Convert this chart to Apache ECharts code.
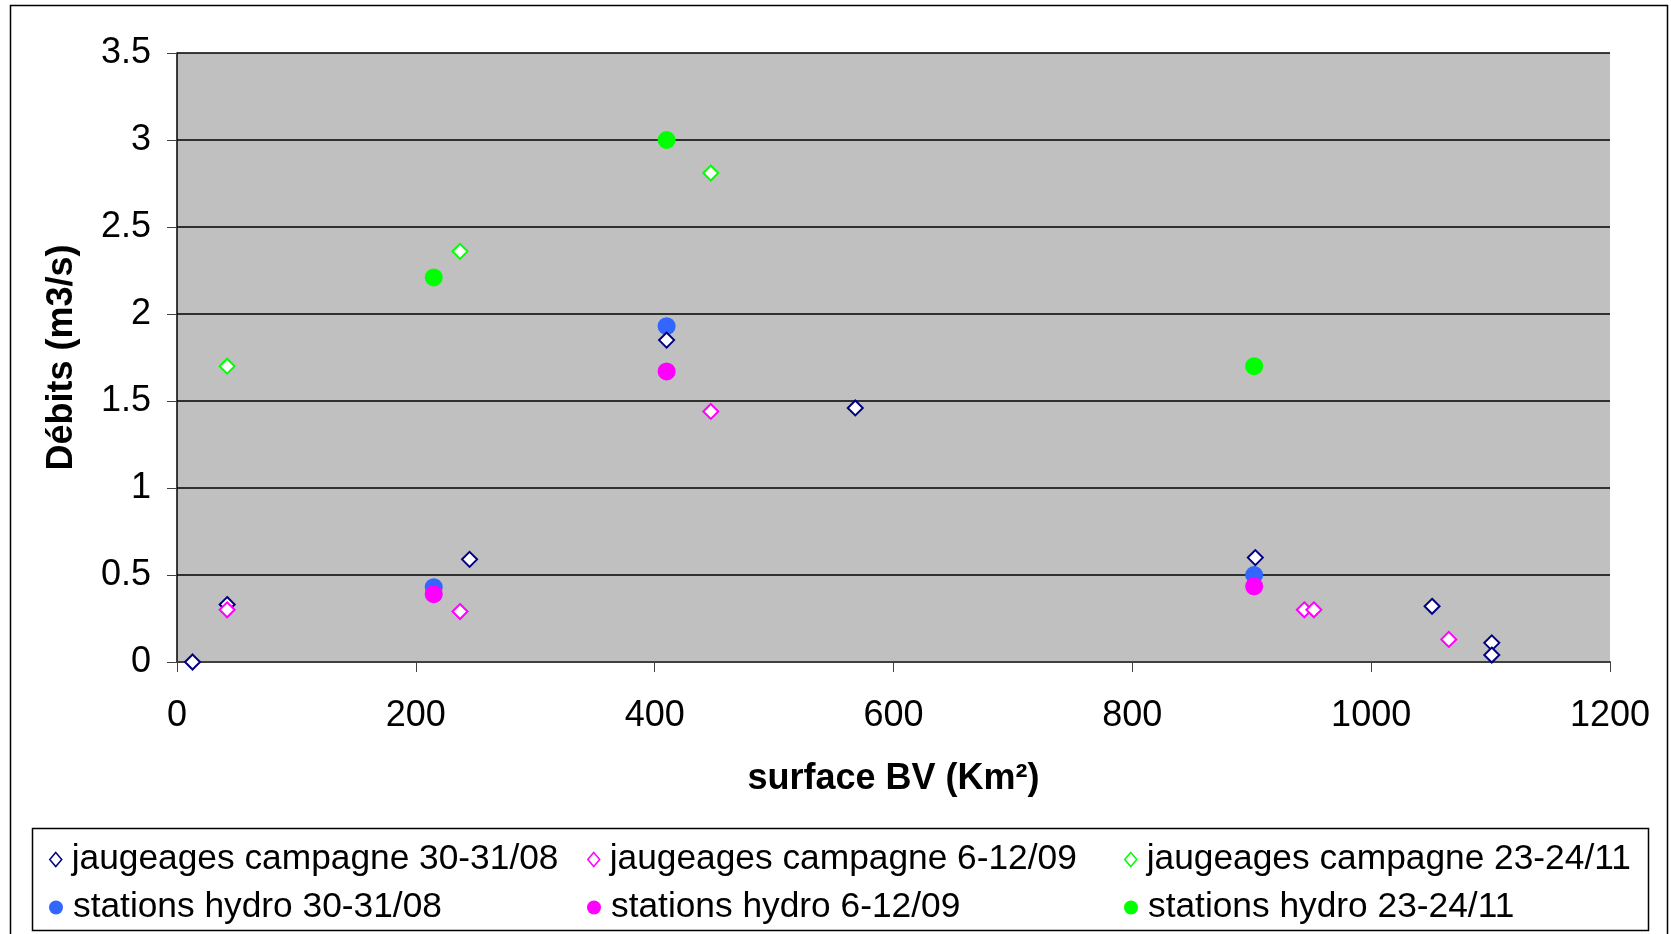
<!DOCTYPE html>
<html>
<head>
<meta charset="utf-8">
<script src="https://cdn.jsdelivr.net/npm/echarts@6/dist/echarts.min.js"></script>
<style>
html,body{margin:0;padding:0;background:#fff;}
#c{width:1671px;height:934px;}
</style>
</head>
<body>
<div id="c"></div>
<script>
// surface BV (Km²), débit (m3/s)
const jaug3008 = [[13,0],[42,0.33],[245,0.59],[410,1.85],[568,1.46],[903,0.60],[1051,0.32],[1101,0.11],[1101,0.04]];
const jaug0612 = [[42,0.30],[237,0.29],[447,1.44],[944,0.30],[952,0.30],[1065,0.13]];
const jaug2324 = [[42,1.70],[237,2.36],[447,2.81]];
const stat3008 = [[215,0.43],[410,1.93],[902,0.50]];
const stat0612 = [[215,0.39],[410,1.67],[902,0.435]];
const stat2324 = [[215,2.21],[410,3.00],[902,1.70]];
const seriesNames = [
  'jaugeages campagne 30-31/08','jaugeages campagne 6-12/09','jaugeages campagne 23-24/11',
  'stations hydro 30-31/08','stations hydro 6-12/09','stations hydro 23-24/11'
];
const xTicks = {min:0, max:1200, interval:200};
const yTicks = {min:0, max:3.5, interval:0.5};

const FONT = '"Liberation Sans", Arial, sans-serif';
const chart = echarts.init(document.getElementById('c'), null, {renderer:'canvas'});

function diamondSeries(name, data, color){
  return {name, type:'scatter', data, symbol:'diamond', symbolSize:[15,15],
    itemStyle:{color:'#ffffff', borderColor:color, borderWidth:2, opacity:1}, z:3};
}
function dotSeries(name, data, color){
  return {name, type:'scatter', data, symbol:'circle', symbolSize:18,
    itemStyle:{color:color, opacity:1}, z:2};
}
const colors = ['#000080','#ff00ff','#00ff00','#3366ff','#ff00ff','#00ff00'];
const series = [
  diamondSeries(seriesNames[0], jaug3008, colors[0]),
  diamondSeries(seriesNames[1], jaug0612, colors[1]),
  diamondSeries(seriesNames[2], jaug2324, colors[2]),
  dotSeries(seriesNames[3], stat3008, colors[3]),
  dotSeries(seriesNames[4], stat0612, colors[4]),
  dotSeries(seriesNames[5], stat2324, colors[5])
];

const legendPos = [[44,837],[582,837],[1119,837],[44,885],[582,885],[1119,885]];
const legends = seriesNames.map((n,i)=>({
  data:[{name:n, icon: i<3 ? 'diamond' : 'circle',
    itemStyle: i<3 ? {color:'#fff', borderColor:colors[i], borderWidth:1.5} : {color:colors[i]}}],
  left:legendPos[i][0], top:legendPos[i][1],
  itemWidth: i<3 ? 12 : 14, itemHeight: i<3 ? 14 : 16, itemGap:8,
  selectedMode:false,
  formatter: (name)=>'{s|}{t|' + name + '}',
  textStyle:{fontFamily:FONT, fontSize:35.3, color:'#000',
    rich:{s:{width:5}, t:{fontFamily:FONT, fontSize:35.3, color:'#000'}}}
}));

chart.setOption({
  animation:false,
  backgroundColor:'#ffffff',
  textStyle:{fontFamily:FONT},
  grid:{left:177, right:61, top:53, bottom:272, show:true, backgroundColor:'#c0c0c0', borderWidth:0},
  xAxis:{type:'value', min:xTicks.min, max:xTicks.max, interval:xTicks.interval,
    name:'surface BV (Km²)', nameLocation:'middle', nameGap:99,
    nameTextStyle:{fontFamily:FONT, fontSize:36, fontWeight:'bold', color:'#000'},
    axisLine:{show:true, onZero:false, lineStyle:{color:'#404040', width:2}},
    axisTick:{show:true, inside:false, length:10, lineStyle:{color:'#404040', width:1}},
    axisLabel:{margin:36, fontSize:36, color:'#000', fontFamily:FONT, formatter:(v)=>String(v)},
    splitLine:{show:false}},
  yAxis:{type:'value', min:yTicks.min, max:yTicks.max, interval:yTicks.interval,
    name:'Débits (m3/s)', nameLocation:'middle', nameGap:97, nameRotate:90,
    nameTextStyle:{fontFamily:FONT, fontSize:36, fontWeight:'bold', color:'#000'},
    axisLine:{show:true, lineStyle:{color:'#000', width:1.5}},
    axisTick:{show:true, inside:false, length:10, lineStyle:{color:'#404040', width:1}},
    axisLabel:{margin:26, fontSize:36, color:'#000', fontFamily:FONT, formatter:(v)=>String(v)},
    splitLine:{show:true, lineStyle:{color:'#000', width:1.5}}},
  legend: legends,
  graphic:[
    {type:'rect', shape:{x:10.5, y:5.5, width:1657, height:940}, style:{fill:'none', stroke:'#000', lineWidth:1.5}, silent:true, z:-1},
    {type:'rect', shape:{x:32.5, y:828.5, width:1616, height:102}, style:{fill:'none', stroke:'#000', lineWidth:1.5}, silent:true, z:-1}
  ],
  series
});
</script>
</body>
</html>
